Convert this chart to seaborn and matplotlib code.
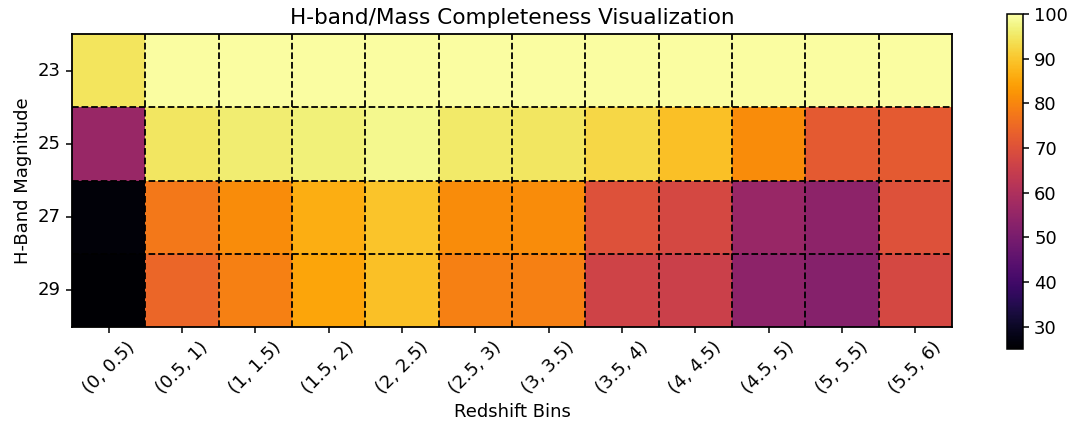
import numpy as np
import pandas as pd
import matplotlib
matplotlib.use("Agg")
import matplotlib.pyplot as plt
import seaborn as sns

redshift_bins = ["(0, 0.5)", "(0.5, 1)", "(1, 1.5)", "(1.5, 2)", "(2, 2.5)", "(2.5, 3)",
                 "(3, 3.5)", "(3.5, 4)", "(4, 4.5)", "(4.5, 5)", "(5, 5.5)", "(5.5, 6)"]
h_mags = [23, 25, 27, 29]

# completeness (%) per H-band magnitude row
comp_23 = [94.5, 99.5, 99.5, 99.5, 99.5, 99.5, 99.5, 99.5, 99.5, 99.5, 99.5, 99.5]
comp_25 = [56.0, 94.8, 96.0, 96.5, 98.0, 95.5, 95.0, 92.5, 89.0, 81.0, 72.0, 72.0]
comp_27 = [26.0, 77.5, 81.0, 86.5, 89.5, 81.0, 81.0, 70.0, 68.0, 56.0, 54.0, 70.0]
comp_29 = [25.0, 74.5, 79.0, 85.0, 89.0, 79.0, 79.0, 66.5, 65.5, 54.0, 52.5, 68.0]

df = pd.DataFrame([comp_23, comp_25, comp_27, comp_29], index=h_mags, columns=redshift_bins)

sns.set_style("white")
plt.rcParams["font.family"] = ["DejaVu Sans"]
for key in ("text.color", "axes.labelcolor", "xtick.color", "ytick.color", "axes.edgecolor"):
    plt.rcParams[key] = "black"

fig = plt.figure(figsize=(10.76, 4.25), dpi=100)
ax = fig.add_axes([72 / 1076, 98 / 425, 880 / 1076, 293 / 425])
cax = fig.add_axes([1007 / 1076, 76 / 425, 16 / 1076, 335 / 425])

sns.heatmap(df, ax=ax, cbar_ax=cax, cmap="inferno", vmin=25, vmax=100)

nrows, ncols = df.shape
for i in range(1, nrows):
    ax.axhline(i, color="black", linestyle="--", linewidth=1.3)
for j in range(1, ncols):
    ax.axvline(j, color="black", linestyle="--", linewidth=1.3)

for sp in ax.spines.values():
    sp.set_visible(True)
    sp.set_color("black")
    sp.set_linewidth(1.3)

ax.set_title("H-band/Mass Completeness Visualization", fontsize=15.6, pad=7)
ax.set_xlabel("Redshift Bins", fontsize=13)
ax.set_ylabel("H-Band Magnitude", fontsize=13)
ax.tick_params(axis="both", which="both", length=4.5, width=1.1, color="black",
               labelsize=13, bottom=True, left=True)
plt.setp(ax.get_xticklabels(), rotation=45, ha="center")
plt.setp(ax.get_yticklabels(), rotation=0)

cax.set_yticks([30, 40, 50, 60, 70, 80, 90, 100])
cax.tick_params(labelsize=13, length=4.5, width=1.1, color="black", right=True)
cbar = ax.collections[0].colorbar
cbar.outline.set_visible(True)
cbar.outline.set_edgecolor("black")
cbar.outline.set_linewidth(1.1)

fig.savefig("out.png", dpi=100)
